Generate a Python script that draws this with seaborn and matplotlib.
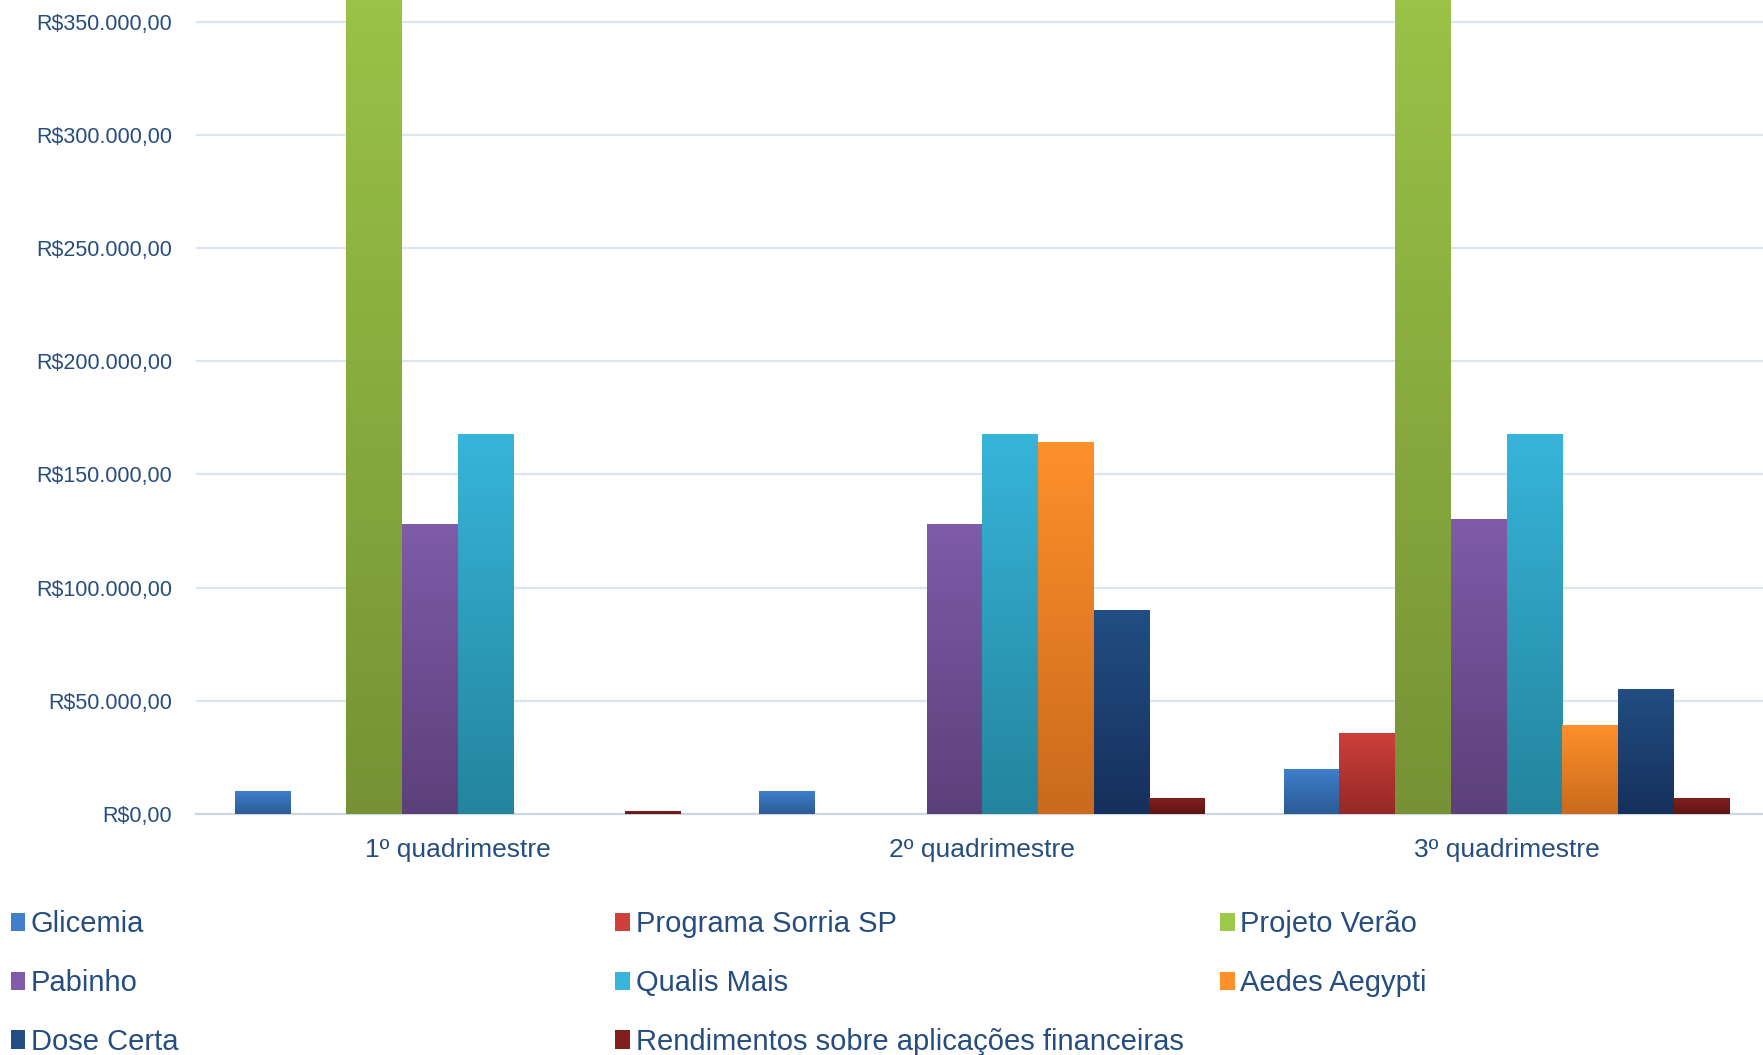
import numpy as np
import pandas as pd
import seaborn as sns
import matplotlib.pyplot as plt
from matplotlib.colors import LinearSegmentedColormap
from matplotlib.patches import Patch
from matplotlib.ticker import FuncFormatter, MultipleLocator

# Data
PERIODS = ["1º quadrimestre", "2º quadrimestre", "3º quadrimestre"]
SERIES = ["Glicemia", "Programa Sorria SP", "Projeto Verão", "Pabinho",
          "Qualis Mais", "Aedes Aegypti", "Dose Certa",
          "Rendimentos sobre aplicações financeiras"]
glicemia = [10000, 10000, 20000]
sorria = [0, 0, 36000]
verao = [400000, 0, 400000]
pabinho = [128000, 128000, 130500]
qualis = [168000, 168000, 168000]
aedes = [0, 164500, 39500]
dose_certa = [0, 90000, 55000]
rendimentos = [1200, 7000, 7000]
VALUES = [glicemia, sorria, verao, pabinho, qualis, aedes, dose_certa, rendimentos]

# gradient colours (top, bottom) per series
TOP = ["#3f7fcc", "#cf3f3b", "#9ec849", "#7f5ba9", "#37b5da", "#ff902b", "#224e83", "#821f1e"]
BOTTOM = ["#2c5b95", "#952826", "#769235", "#5c407a", "#24849d", "#c96a1d", "#16305c", "#5e1614"]

TEXT_COLOR = "#264d80"
GRID_COLOR = "#dbe5f1"

rows = []
for name, vals in zip(SERIES, VALUES):
    for period, v in zip(PERIODS, vals):
        rows.append({"period": period, "series": name, "value": v})
df = pd.DataFrame(rows)

sns.set_theme(style="white")
plt.rcParams["font.family"] = ["Liberation Sans", "DejaVu Sans"]

fig = plt.figure(figsize=(17.63, 10.55), dpi=100)
ax = fig.add_axes([0.111, 0.2284, 0.8923, 0.7716])

sns.barplot(data=df, x="period", y="value", hue="series", hue_order=SERIES,
            palette=TOP, width=0.85, gap=0, saturation=1, errorbar=None,
            legend=False, ax=ax)

ylim = (0, 359500)
xlim = ax.get_xlim()

# vertical gradient on each bar, Excel style
for i, cont in enumerate(ax.containers):
    cmap = LinearSegmentedColormap.from_list(f"g{i}", [BOTTOM[i], TOP[i]])
    for bar in cont:
        h = bar.get_height()
        if h <= 0:
            continue
        x0 = bar.get_x()
        w = bar.get_width()
        grad = np.linspace(0, 1, 256).reshape(-1, 1)
        im = ax.imshow(grad, cmap=cmap, origin="lower", aspect="auto",
                       extent=[x0, x0 + w, 0, h], zorder=3)
        im.set_clip_path(bar)
        bar.set_edgecolor("none")

ax.set_xlim(xlim)
ax.set_ylim(ylim)
ax.yaxis.set_major_locator(MultipleLocator(50000))
ax.yaxis.set_major_formatter(FuncFormatter(
    lambda v, p: "R$" + f"{v:,.2f}".replace(",", "X").replace(".", ",").replace("X", ".")))
ax.grid(axis="y", color=GRID_COLOR, linewidth=1.6, zorder=0)
ax.set_axisbelow(True)
for s in ["top", "right", "left"]:
    ax.spines[s].set_visible(False)
ax.spines["bottom"].set_color("#cdd7e4")
ax.spines["bottom"].set_linewidth(1.6)
ax.tick_params(axis="both", length=0, colors=TEXT_COLOR)
ax.tick_params(axis="y", labelsize=15.5, pad=17)
ax.tick_params(axis="x", labelsize=19, pad=17.5)
ax.set_xlabel("")
ax.set_ylabel("")

# legend in three columns
handles = [Patch(facecolor=TOP[i], edgecolor="none") for i in range(len(SERIES))]
columns = [[0, 3, 6], [1, 4, 7], [2, 5]]
col_x = [0.006, 0.349, 0.692]
for cx, idxs in zip(col_x, columns):
    fig.legend([handles[i] for i in idxs], [SERIES[i] for i in idxs],
               loc="upper left", bbox_to_anchor=(cx, 0.137), frameon=False,
               fontsize=21, labelcolor=TEXT_COLOR, handlelength=0.5,
               handleheight=0.6, handletextpad=0.2, labelspacing=1.05,
               borderaxespad=0, borderpad=0)

fig.savefig("out.png", dpi=100)
